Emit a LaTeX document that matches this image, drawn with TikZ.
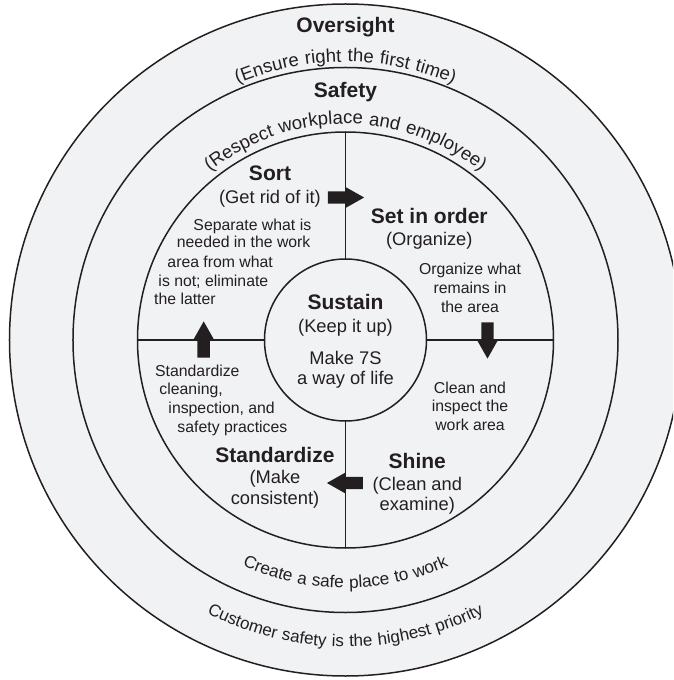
\documentclass[tikz,border=0pt]{standalone}
\usepackage{fontspec}
\setmainfont{Liberation Sans}
\newfontfamily\arcfont[LetterSpace=4]{Liberation Sans}
\newfontfamily\arcfontwide[LetterSpace=5]{Liberation Sans}
\usetikzlibrary{decorations.text}

\definecolor{paper}{RGB}{241,242,244}
\definecolor{ink}{RGB}{35,31,32}

\tikzset{
  ringc/.style={circle, draw=ink, line width=1.5pt, inner sep=0pt, outer sep=0pt},
  divider/.style={draw=ink, line width=1pt},
  head/.style={font=\bfseries\fontsize{21}{24}\selectfont, text=ink, anchor=base, inner sep=0pt},
  sub/.style={font=\fontsize{18.3}{21}\selectfont, text=ink, anchor=base, inner sep=0pt},
  note/.style={font=\fontsize{15.8}{18.7}\selectfont, text=ink, anchor=base, inner sep=0pt},
  notel/.style={note, anchor=base west},
  arctext/.style={decorate, decoration={text along path, text align=center, text color=ink}},
  blockarrow/.pic={
    \fill[ink] (-17.5,-6.2) -- (0,-6.2) -- (0,-10.5) -- (18.6,0) -- (0,10.5)
      -- (0,6.2) -- (-17.5,6.2) -- cycle;
  }
}

\begin{document}
\begin{tikzpicture}[x=1pt,y=1pt]
  \useasboundingbox (-345.5,-340) rectangle (327.5,340);
  \fill[white] (-345.5,-340) rectangle (327.5,340);
  \clip (-345.5,-340) rectangle (327.5,340);

  % concentric rings
  \node[ringc, fill=paper, minimum size=672pt] (ring1) at (0,0) {};
  \node[ringc, minimum size=545pt] (ring2) at (0,0) {};
  \node[ringc, minimum size=416pt] (ring3) at (0,0) {};
  \node[ringc, minimum size=162pt] (core) at (0,0) {};

  % quadrant dividers
  \draw[divider] (ring3.north) -- (core.north);
  \draw[divider] (core.south) -- (ring3.south);
  \draw[divider] (ring3.west) -- (core.west);
  \draw[divider] (core.east) -- (ring3.east);

  % outer band
  \node[head] (oversight) at (0,307.5) {Oversight};
  \path[arctext, decoration={text={|\arcfontwide\fontsize{18.5}{20}\selectfont|(Ensure right the first time)}}]
    (160:278) arc[start angle=160, end angle=20, radius=278];
  \path[arctext, decoration={text={|\arcfont\fontsize{17}{20}\selectfont|Customer safety is the highest priority}}]
    (200:306.7) arc[start angle=200, end angle=340, radius=306.7];

  % safety band
  \node[head] (safety) at (0,242.5) {Safety};
  \path[arctext, decoration={text={|\arcfontwide\fontsize{18.5}{20}\selectfont|(Respect workplace and employee)}}]
    (160:216) arc[start angle=160, end angle=20, radius=216];
  \path[arctext, decoration={text={|\arcfont\fontsize{17.2}{20}\selectfont|Create a safe place to work}}]
    (200:248) arc[start angle=200, end angle=340, radius=248];

  % Sort
  \node[head] (sort) at (-75.5,159) {Sort};
  \node[sub] (sortsub) at (-75.5,136.8) {(Get rid of it)};
  \node[notel] (sort1) at (-152.2,109.3) {Separate what is};
  \node[notel] (sort2) at (-168.8,92) {needed in the work};
  \node[notel] (sort3) at (-178.2,72.6) {area from what};
  \node[notel] (sort4) at (-187.2,53.6) {is not; eliminate};
  \node[notel] (sort5) at (-191.5,35.3) {the latter};

  % Set in order
  \node[head] (order) at (83.8,116.5) {Set in order};
  \node[sub] (ordersub) at (83.8,94.5) {(Organize)};
  \node[note] (order1) at (124.5,65) {Organize what};
  \node[note] (order2) at (124.5,46) {remains in};
  \node[note] (order3) at (124.5,27.6) {the area};

  % Sustain
  \node[head] (sustain) at (0,30.2) {Sustain};
  \node[sub] (sustainsub) at (0,7.8) {(Keep it up)};
  \node[sub] (sustain1) at (0,-24.8) {Make 7S};
  \node[sub] (sustain2) at (0,-44.8) {a way of life};

  % Standardize
  \node[notel] (std1) at (-190.5,-36.4) {Standardize};
  \node[notel] (std2) at (-186.2,-54.7) {cleaning,};
  \node[notel] (std3) at (-177.2,-73.4) {inspection, and};
  \node[notel] (std4) at (-168.2,-92.4) {safety practices};
  \node[head] (std) at (-70.5,-122.5) {Standardize};
  \node[sub] (stdsub1) at (-70.5,-143.2) {(Make};
  \node[sub] (stdsub2) at (-70.5,-164.8) {consistent)};

  % Shine
  \node[note] (shine1) at (124.5,-53.4) {Clean and};
  \node[note] (shine2) at (124.5,-71.7) {inspect the};
  \node[note] (shine3) at (124.5,-90.7) {work area};
  \node[head] (shine) at (71.8,-128.2) {Shine};
  \node[sub] (shinesub1) at (71.8,-150.5) {(Clean and};
  \node[sub] (shinesub2) at (71.8,-170.5) {examine)};

  % cycle arrows on the dividers
  \pic at (0,142.5) {blockarrow};
  \pic[rotate=-90] at (142,0) {blockarrow};
  \pic[rotate=180] at (0,-143) {blockarrow};
  \pic[rotate=90] at (-141.8,0) {blockarrow};
\end{tikzpicture}
\end{document}
